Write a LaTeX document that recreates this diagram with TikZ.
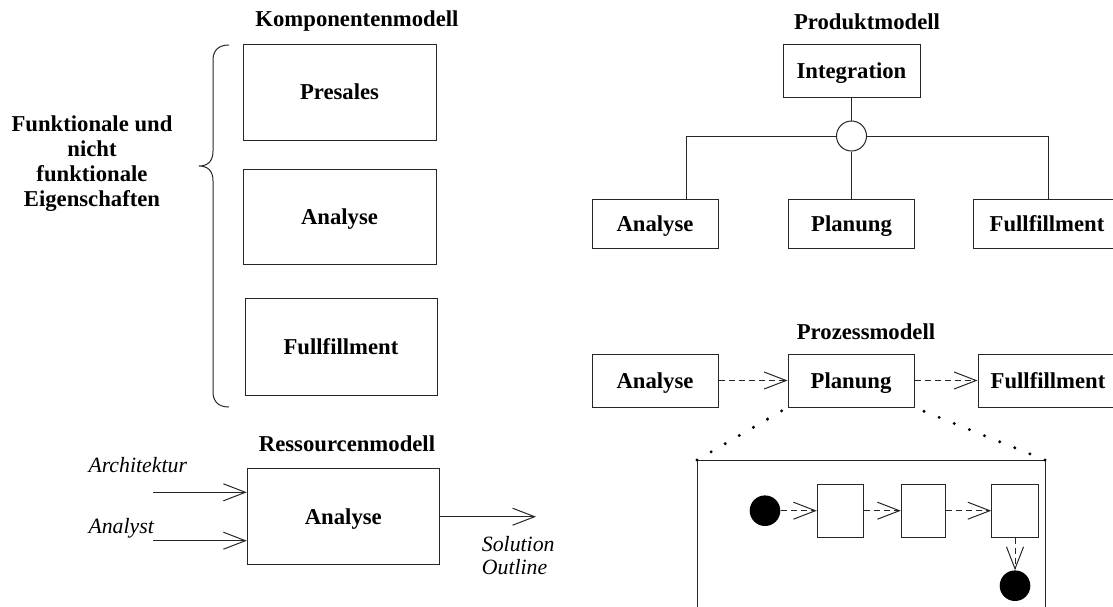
\documentclass[tikz,border=0pt]{standalone}
\usepackage{fontspec}
\setmainfont{Liberation Serif}
\usetikzlibrary{arrows.meta}
\begin{document}
\begin{tikzpicture}[x=1pt,y=-1pt,
  every node/.style={inner sep=0pt},
  ln/.style={line width=1pt, draw=black!85},
  lbl/.style={font=\fontsize{22.7}{25}\selectfont\bfseries, text height=15pt, text depth=0pt},
  itl/.style={font=\fontsize{21.8}{23.3}\selectfont\itshape},
  box/.style n args={2}{ln, lbl, minimum width=#1pt, minimum height=#2pt},
  blob/.style={circle, fill=black, minimum size=30.6pt},
  arr/.style={ln, -{Straight Barb[length=22pt,width=17pt]}},
  darr/.style={arr, dash pattern=on 6pt off 4pt},
  dots/.style={line width=3.3pt, line cap=round, dash pattern=on 0pt off 16.3pt},
]
\useasboundingbox (0,0) rectangle (1113,606);

% ---------------- Komponentenmodell ----------------
\node[lbl] (tkomp) at (357,19.2) {Komponentenmodell};
\node[box={193}{96}] (kpre) at (339.5,92) {Presales};
\node[box={193}{95}] (kana) at (339.5,216.5) {Analyse};
\node[box={192}{97}] (kful) at (341,346.5) {Fullfillment};
\draw[ln] (229,45) .. controls (219,45) and (213,50) .. (213,60) -- (213,151)
  .. controls (213,161) and (208,166) .. (199,166)
  .. controls (208,166) and (213,171) .. (213,181) -- (213,392)
  .. controls (213,402) and (219,407) .. (229,407);
\node[font=\fontsize{22.7}{25}\selectfont\bfseries, align=center] (props) at (92,164)
  {Funktionale und\\nicht\\funktionale\\Eigenschaften};

% ---------------- Ressourcenmodell ----------------
\node[lbl] (tres) at (347,444) {Ressourcenmodell};
\node[box={192}{96}] (rana) at (343.3,516.7) {Analyse};
\node[itl, anchor=base west] (arch) at (88.3,472.3) {Architektur};
\node[itl, anchor=base west] (anst) at (88.3,533.3) {Analyst};
\coordinate (in1) at (153.3,492.3);
\coordinate (in2) at (153.3,540.7);
\coordinate (out) at (536,516.7);
\draw[arr] (in1) -- (in1 -| rana.west);
\draw[arr] (in2) -- (in2 -| rana.west);
\draw[arr] (rana.east) -- (out);
\node[itl, align=left, anchor=west] (sol) at (481.7,555.4) {Solution\\Outline};

% ---------------- Produktmodell ----------------
\node[lbl] (tprod) at (867,21.8) {Produktmodell};
\node[box={137}{53}] (pint) at (851.5,70.5) {Integration};
\node[ln, circle, fill=white, minimum size=30pt] (pjoin) at (851.5,136) {};
\node[box={126}{49}] (pana) at (655,223.5) {Analyse};
\node[box={126}{49}] (ppla) at (851.5,223.5) {Planung};
\node[box={148}{49}] (pful) at (1047,223.5) {Fullfillment};
\coordinate (lcorner) at (686,136);
\coordinate (rcorner) at (1048,136);
\draw[ln] (pint) -- (pjoin);
\draw[ln] (pjoin) -- (ppla);
\draw[ln] (pjoin.west) -- (lcorner) -- (lcorner |- pana.north);
\draw[ln] (pjoin.east) -- (rcorner) -- (rcorner |- pful.north);

% ---------------- Prozessmodell ----------------
\node[lbl] (tproz) at (866,331.8) {Prozessmodell};
\node[box={126}{53}] (qana) at (655,380.5) {Analyse};
\node[box={126}{53}] (qpla) at (851,380.5) {Planung};
\node[box={140}{53}] (qful) at (1048,380.5) {Fullfillment};
\draw[darr] (qana) -- (qpla);
\draw[darr] (qpla) -- (qful);

% detail frame of Planung
\coordinate (fl) at (697,460);
\coordinate (fr) at (1045,460);
\coordinate (flb) at (697,620);
\coordinate (frb) at (1045,620);
\draw[ln] (flb) -- (fl) -- (fr) -- (frb);
\draw[dots] (fl) -- (qpla.south west);
\draw[dots] (fr) -- (qpla.south east);

\node[blob] (qs) at (765,510.7) {};
\node[box={46.4}{52.7}] (q1) at (840.5,510.7) {};
\node[box={44.4}{52.7}] (q2) at (923.5,510.7) {};
\node[box={46.6}{52.7}] (q3) at (1015,510.7) {};
\node[blob] (qe) at (1015,585.7) {};
\draw[darr] (qs) -- (q1);
\draw[darr] (q1) -- (q2);
\draw[darr] (q2) -- (q3);
\draw[darr] (q3) -- (qe);
\end{tikzpicture}
\end{document}
